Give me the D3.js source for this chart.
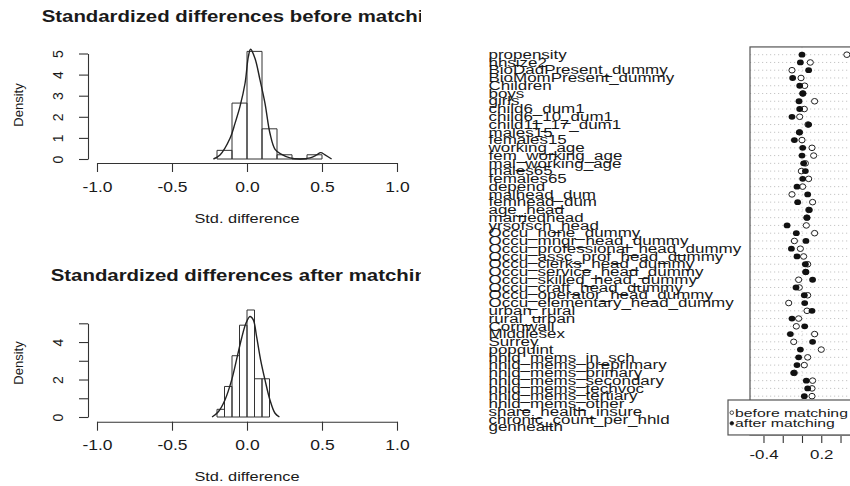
<!DOCTYPE html>
<html>
<head>
<meta charset="utf-8">
<script src="https://cdn.jsdelivr.net/npm/d3@7"></script>
<style>
  body { margin: 0; background: #fff; }
  svg { display: block; font-family: "Liberation Sans", Arial, sans-serif; }
</style>
</head>
<body>
<svg id="chart" width="850" height="486"></svg>
<script>
// --- histogram of std. differences before matching (bin start, density) ---
const beforeBinStart = [-0.2, -0.1, 0.0, 0.1, 0.2, 0.3, 0.4];
const beforeDensity = [0.41, 2.65, 5.10, 1.43, 0.20, 0.0, 0.20];
const beforeBinWidth = 0.1;
// density curve
const beforeKdeX = [-0.224, -0.18, -0.113, -0.08, -0.047, -0.013, 0.009, 0.024, 0.053, 0.087, 0.12, 0.153, 0.187, 0.231, 0.287, 0.353, 0.42, 0.464, 0.491, 0.52, 0.564];
const beforeKdeY = [0.0, 0.19, 0.98, 1.69, 2.48, 3.59, 4.85, 5.2, 4.77, 3.74, 2.64, 1.22, 0.46, 0.22, 0.05, 0.0, 0.05, 0.19, 0.30, 0.2, 0.0];

// --- after matching ---
const afterBinStart = [-0.2, -0.15, -0.1, -0.05, 0.0, 0.05, 0.1];
const afterDensity = [0.41, 1.63, 3.27, 4.90, 5.71, 2.04, 2.04];
const afterBinWidth = 0.05;
const afterKdeX = [-0.233, -0.191, -0.147, -0.102, -0.065, -0.036, -0.007, 0.02, 0.042, 0.064, 0.091, 0.12, 0.153, 0.187, 0.216];
const afterKdeY = [0.0, 0.28, 0.91, 1.98, 3.22, 4.2, 5.0, 5.36, 5.18, 4.29, 3.04, 1.98, 0.91, 0.2, 0.0];

const histXTicks = [-1.0, -0.5, 0.0, 0.5, 1.0];

// --- dot chart ---
const varNames = ["propensity", "hhsize2", "BioDadPresent_dummy", "BioMomPresent_dummy", "Children",
  "boys", "girls", "child6_dum1", "child6_10_dum1", "child11_17_dum1", "males15", "females15",
  "working_age", "fem_working_age", "mal_working_age", "males65", "females65", "depend",
  "malhead_dum", "femhead_dum", "age_head", "marriedhead", "yrsofsch_head", "Occu_none_dummy",
  "Occu_mngr_head_dummy", "Occu_professional_head_dummy", "Occu_assc_prof_head_dummy",
  "Occu_clerks_head_dummy", "Occu_service_head_dummy", "Occu_skilled_head_dummy",
  "Occu_craft_head_dummy", "Occu_operator_head_dummy", "Occu_elementary_head_dummy",
  "urban_rural", "rural_urban", "Cornwall", "Middlesex", "Surrey", "popquint",
  "hhld_mems_in_sch", "hhld_mems_preprimary", "hhld_mems_primary", "hhld_mems_secondary",
  "hhld_mems_techvoc", "hhld_mems_tertiary", "hhld_mems_other", "share_health_insure",
  "chronic_count_per_hhld", "genhealth"];
const beforeDiff = [0.466, 0.086, -0.104, -0.010, 0.028, 0.010, 0.131, 0.024, -0.024, 0.062,
  -0.025, 0.000, 0.104, 0.121, 0.035, -0.007, 0.069, 0.007, -0.104, 0.110, 0.070, 0.050,
  0.045, 0.131, -0.079, -0.017, 0.017, 0.059, 0.038, -0.035, -0.028, 0.059, -0.138, 0.052,
  -0.035, -0.059, 0.131, -0.086, 0.200, 0.059, 0.024, -0.080, 0.110, 0.104, 0.104, 0.040,
  0.030, -0.020, 0.050];
const afterDiff = [0.000, -0.017, 0.069, -0.097, -0.024, 0.007, -0.031, -0.024, -0.104, 0.069,
  -0.028, -0.079, 0.007, 0.000, 0.017, 0.035, 0.007, -0.052, 0.059, -0.045, 0.076, 0.052,
  -0.155, -0.059, 0.041, -0.110, -0.052, 0.035, 0.041, 0.110, -0.062, 0.024, 0.028, 0.104,
  -0.104, 0.028, -0.121, 0.110, -0.017, -0.035, -0.052, -0.086, 0.045, 0.059, 0.024, 0.020,
  0.010, 0.030, 0.000];
const dotTicks = [-0.4, -0.2, 0.0, 0.2, 0.4];
const dotTickLabels = [-0.4, 0.2];
const legendLabels = ["before matching", "after matching"];

const svg = d3.select("#chart");
const ink = "#1a1a1a";

// horizontal text in the picture is wider than it is tall
function stext(parent, x, y, str, size, sx, anchor) {
  return parent.append("text")
    .attr("transform", "translate(" + x + "," + y + ") scale(" + sx + ",1)")
    .attr("font-size", size)
    .attr("text-anchor", anchor || "start")
    .attr("fill", ink)
    .text(str);
}

svg.append("clipPath").attr("id", "leftclip")
  .append("rect").attr("x", 0).attr("y", 0).attr("width", 421).attr("height", 486);
const left = svg.append("g").attr("clip-path", "url(#leftclip)");

const x = d3.scaleLinear().domain([-1, 1]).range([97, 397]);

function histPanel(o) {
  const g = left.append("g");
  const y = d3.scaleLinear().domain([0, 5]).range([o.y0, o.y5]);

  stext(g, 245, o.titleY, o.title, 17, 1.2, "middle").attr("font-weight", "bold");

  // bars
  g.selectAll("path.bar")
    .data(o.binStart.map((b, i) => ({ b: b, d: o.density[i] })))
    .enter().append("path")
    .attr("class", "bar")
    .attr("d", d => {
      const x0 = x(d.b), x1 = x(d.b + o.binWidth), yb = y(0), yt = y(d.d);
      return "M" + x0 + "," + yb + "V" + yt + "H" + x1 + "V" + yb + "Z";
    })
    .attr("fill", "none")
    .attr("stroke", "#333")
    .attr("stroke-width", 1);

  // density curve
  const line = d3.line()
    .x(d => x(d[0]))
    .y(d => y(d[1]))
    .curve(d3.curveCatmullRom);
  g.append("path")
    .attr("d", line(o.kdeX.map((v, i) => [v, o.kdeY[i]])))
    .attr("fill", "none")
    .attr("stroke", "#222")
    .attr("stroke-width", 1.4);

  // x axis
  const ax = g.append("g")
    .attr("transform", "translate(0," + o.axisY + ")")
    .call(d3.axisBottom(x).tickValues(histXTicks).tickSize(9).tickSizeOuter(0)
      .tickFormat(d => d.toFixed(1)));
  ax.select(".domain").attr("stroke", "#333").attr("stroke-width", 1.1);
  ax.selectAll(".tick line").attr("stroke", "#333").attr("stroke-width", 1.1);
  ax.selectAll(".tick text")
    .attr("y", null).attr("dy", null)
    .attr("transform", "translate(0," + (o.tickLabelY - o.axisY) + ") scale(1.25,1)")
    .attr("font-size", 14)
    .attr("font-family", "Liberation Sans, Arial, sans-serif")
    .attr("fill", ink);

  // y axis
  const ay = g.append("g")
    .attr("transform", "translate(88,0)")
    .call(d3.axisLeft(y).tickValues([0, 1, 2, 3, 4, 5]).tickSize(9).tickSizeOuter(0)
      .tickFormat(d => o.yLabels.includes(d) ? String(d) : ""));
  ay.select(".domain").attr("stroke", "#333").attr("stroke-width", 1.1);
  ay.selectAll(".tick line").attr("stroke", "#333").attr("stroke-width", 1.1);
  ay.selectAll(".tick text")
    .attr("x", null).attr("dy", null)
    .attr("text-anchor", "middle")
    .attr("transform", "translate(-25,0) rotate(-90)")
    .attr("font-size", 14)
    .attr("font-family", "Liberation Sans, Arial, sans-serif")
    .attr("fill", ink);

  stext(g, 247, o.xlabY, "Std. difference", 13, 1.26, "middle");
  g.append("text")
    .attr("transform", "translate(22.6," + o.ylabY + ") rotate(-90)")
    .attr("text-anchor", "middle")
    .attr("font-size", 13)
    .attr("fill", ink)
    .text("Density");
}

histPanel({
  title: "Standardized differences before matching", titleY: 22.3,
  y0: 159, y5: 53.5, axisY: 163, tickLabelY: 191.7, xlabY: 222.5, ylabY: 105,
  binStart: beforeBinStart, density: beforeDensity, binWidth: beforeBinWidth,
  kdeX: beforeKdeX, kdeY: beforeKdeY, yLabels: [0, 1, 2, 3, 4, 5]
});
histPanel({
  title: "Standardized differences after matching", titleY: 280.5,
  y0: 417, y5: 323.3, axisY: 421.7, tickLabelY: 450, xlabY: 480.5, ylabY: 363,
  binStart: afterBinStart, density: afterDensity, binWidth: afterBinWidth,
  kdeX: afterKdeX, kdeY: afterKdeY, yLabels: [0, 2, 4]
});

// ---------------- dot chart ----------------
const right = svg.append("g");
const xDot = d3.scaleLinear().domain([-0.54, 0.54]).range([750, 854]);
const yDot = d3.scalePoint().domain(varNames).range([54.7, 427.2]);
const step = yDot.step();
const frameTop = yDot(varNames[0]) - step;
const frameBottom = yDot(varNames[varNames.length - 1]) + step;

right.selectAll("line.row")
  .data(varNames)
  .enter().append("line")
  .attr("class", "row")
  .attr("x1", xDot.range()[0]).attr("x2", xDot.range()[1])
  .attr("y1", d => yDot(d)).attr("y2", d => yDot(d))
  .attr("stroke", "#b8b8b8")
  .attr("stroke-width", 0.8)
  .attr("stroke-dasharray", "1.2,2.8");

right.append("line")
  .attr("x1", xDot(0)).attr("x2", xDot(0))
  .attr("y1", frameTop).attr("y2", frameBottom)
  .attr("stroke", "#c8c8c8")
  .attr("stroke-width", 0.8)
  .attr("stroke-dasharray", "1.2,2.8");

right.append("rect")
  .attr("x", xDot.range()[0]).attr("y", frameTop)
  .attr("width", xDot.range()[1] - xDot.range()[0])
  .attr("height", frameBottom - frameTop)
  .attr("fill", "none")
  .attr("stroke", "#555")
  .attr("stroke-width", 1.2);

right.selectAll("text.lab")
  .data(varNames)
  .enter().append("text")
  .attr("class", "lab")
  .attr("transform", d => "translate(488.5," + (yDot(d) + 4.2) + ") scale(1.38,1)")
  .attr("font-size", 12.3)
  .attr("fill", ink)
  .text(d => d);

right.selectAll("ellipse.before")
  .data(varNames)
  .enter().append("ellipse")
  .attr("class", "before")
  .attr("cx", (d, i) => xDot(beforeDiff[i]))
  .attr("cy", d => yDot(d))
  .attr("rx", 3.1).attr("ry", 2.8)
  .attr("fill", "#fff")
  .attr("stroke", "#222")
  .attr("stroke-width", 1);

right.selectAll("ellipse.after")
  .data(varNames)
  .enter().append("ellipse")
  .attr("class", "after")
  .attr("cx", (d, i) => xDot(afterDiff[i]))
  .attr("cy", d => yDot(d))
  .attr("rx", 3.4).attr("ry", 2.9)
  .attr("fill", "#111");

const axd = right.append("g")
  .attr("transform", "translate(0," + (frameBottom + 1) + ")")
  .call(d3.axisBottom(xDot).tickValues(dotTicks).tickSize(7).tickSizeOuter(0)
    .tickFormat(d => dotTickLabels.includes(d) ? d.toFixed(1) : ""));
axd.select(".domain").remove();
axd.selectAll(".tick line").attr("stroke", "#333").attr("stroke-width", 1.1);
axd.selectAll(".tick text")
  .attr("y", null).attr("dy", null)
  .attr("transform", "translate(0," + (459.3 - frameBottom - 1) + ") scale(1.3,1)")
  .attr("font-size", 13)
  .attr("font-family", "Liberation Sans, Arial, sans-serif")
  .attr("fill", ink);

// legend
const leg = right.append("g");
leg.append("rect")
  .attr("x", 728).attr("y", 400).attr("width", 140).attr("height", frameBottom - 400)
  .attr("fill", "#fff")
  .attr("stroke", "#555")
  .attr("stroke-width", 1.2);
legendLabels.forEach((lab, i) => {
  const cy = 412.7 + i * 10.6;
  leg.append("circle")
    .attr("cx", 731.8).attr("cy", cy).attr("r", 1.8)
    .attr("fill", i === 0 ? "#fff" : "#111")
    .attr("stroke", "#222").attr("stroke-width", 0.8);
  stext(leg, 735, cy + 4, lab, 11.5, 1.37, "start");
});
</script>
</body>
</html>
